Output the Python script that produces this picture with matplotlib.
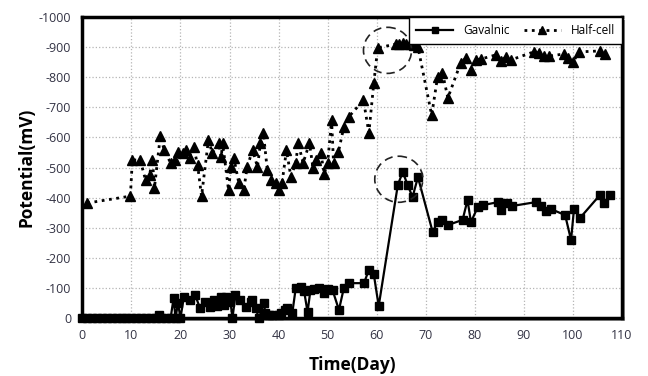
import matplotlib.pyplot as plt
from matplotlib.patches import Ellipse, Rectangle
from matplotlib.ticker import FuncFormatter

plt.rcParams['font.family'] = ['Open Sans', 'DejaVu Sans']

# Gavalnic (galvanic) potential, mV (negative)
gav_day = [0, 1, 2, 3, 4, 5, 6, 7, 8, 9, 10, 11, 12, 13, 14, 15, 15.6, 16, 17, 18,
           18.6, 19, 19.5, 20, 20.7, 22.0, 23.0, 24.0, 25.0, 26.0, 26.8, 27.5, 28.2,
           28.8, 29.2, 30.2, 30.6, 31.2, 32.2, 33.3, 34.3, 34.6, 35.3, 36.0, 37.0,
           37.3, 38.0, 38.7, 40.0, 40.4, 41.4, 41.8, 42.8, 43.5, 44.5, 45.2, 45.9,
           46.5, 47.3, 48.2, 49.2, 50.0, 51.0, 52.3, 53.3, 54.3, 57.4, 58.4, 59.4,
           60.4, 64.3, 65.3, 66.3, 67.3, 68.4, 71.4, 72.4, 73.4, 74.5, 77.5, 78.5,
           79.2, 80.6, 81.6, 84.7, 85.3, 86.5, 87.5, 92.4, 93.5, 94.5, 95.5, 98.4,
           99.6, 100.2, 101.4, 105.5, 106.3, 107.6]
gav_mv = [0, 0, 0, 0, 0, 0, 0, 0, 0, 0, 0, 0, 0, 0, 0, 0, -10, 0, 0, 0,
          -66, 0, -50, 0, -70, -60, -76, -33, -53, -37, -60, -40, -70,
          -43, -70, -53, 0, -76, -60, -37, -53, -60, -33, 0, -50,
          -17, -10, -10, -10, -17, -27, -33, -17, -100, -103, -90, -20,
          -93, -95, -100, -83, -95, -93, -27, -100, -116, -116, -160, -146,
          -40, -442, -485, -442, -402, -468, -286, -319, -326, -309, -326, -392,
          -319, -369, -375, -385, -359, -382, -372, -385, -372, -355, -362, -342,
          -259, -362, -332, -409, -382, -409]

# Half-cell potential, mV (negative)
hc_day = [1, 9.8, 10.2, 11.8, 12.9, 13.7, 14.3, 14.7, 15.9, 16.7, 18.0, 18.8, 19.6,
          20.6, 21.2, 22.0, 22.7, 23.5, 24.3, 25.7, 26.5, 27.8, 28.3, 28.6, 29.8,
          30.3, 30.9, 31.9, 32.9, 33.6, 34.7, 35.7, 36.3, 36.9, 37.7, 38.4, 39.4,
          40.0, 40.7, 41.6, 42.5, 43.5, 44.0, 45.0, 46.3, 47.0, 47.6, 48.6, 49.3,
          50.0, 50.8, 51.2, 52.2, 53.3, 54.3, 57.3, 58.4, 59.4, 60.2, 63.9, 64.6,
          65.3, 66.0, 66.7, 67.5, 68.4, 71.2, 72.4, 73.4, 74.5, 77.1, 78.2, 79.3,
          80.2, 81.2, 84.3, 85.3, 86.3, 87.3, 92.0, 93.1, 94.1, 95.1, 98.2, 98.9,
          100.0, 101.3, 105.5, 106.5]
hc_mv = [-382, -405, -525, -525, -458, -475, -525, -432, -605, -558, -515, -525, -552,
         -548, -558, -530, -568, -508, -405, -591, -548, -581, -535, -581, -425,
         -502, -531, -448, -425, -502, -558, -502, -581, -615, -492, -458, -448,
         -425, -448, -558, -470, -515, -581, -515, -581, -500, -525, -548, -480,
         -515, -658, -515, -552, -635, -668, -724, -615, -780, -897, -910, -910,
         -912, -910, -910, -908, -900, -674, -801, -814, -731, -847, -864, -824,
         -857, -860, -874, -854, -867, -857, -884, -880, -870, -870, -877, -862,
         -851, -884, -887, -877]

# dashed circles marking the jump
circ_day = [62.2, 64.5]
circ_mv = [-889, -461]

fig = plt.figure(figsize=(6.48, 3.76), dpi=100)
ax = fig.add_axes([0.127, 0.154, 0.833, 0.801])
ax.set_zorder(2)

# simple drop shadow behind the plot frame
shadow = Rectangle((0.127 + 0.004, 0.154 - 0.007), 0.833, 0.801, transform=fig.transFigure,
                   facecolor='#9a9a9a', edgecolor='none', zorder=0)
fig.patches.append(shadow)

ax.plot(gav_day, gav_mv, '-s', color='black', lw=1.6, ms=6.2, label='Gavalnic', zorder=4,
        clip_on=False)
ax.plot(hc_day, hc_mv, ':^', color='black', lw=2.0, ms=6.8, label='Half-cell', zorder=3)

for d, v in zip(circ_day, circ_mv):
    ax.add_patch(Ellipse((d, v), 9.8, 153, fill=False, ls=(0, (5, 3)), lw=1.2,
                         edgecolor='#222222', zorder=5))

ax.set_xlim(0, 110)
ax.set_ylim(0, -1000)
ax.set_xticks(range(0, 111, 10))
ax.set_yticks(range(0, -1001, -100))
ax.yaxis.set_major_formatter(FuncFormatter(lambda v, p: '%d' % v))
ax.tick_params(length=0, labelsize=9, labelcolor='#333344', pad=8)
ax.grid(True, color='#b5b5b5', ls=':', lw=0.9)
ax.set_axisbelow(True)
for s in ax.spines.values():
    s.set_linewidth(2.5)
    s.set_color('black')

ax.set_xlabel('Time(Day)', fontsize=12.5, fontweight='bold', labelpad=10)
ax.set_ylabel('Potential(mV)', fontsize=12.5, fontweight='bold', labelpad=2)

leg = ax.legend(loc='upper right', ncol=2, fontsize=8.5, frameon=True, fancybox=False,
                borderaxespad=0, handlelength=3.2, columnspacing=1.2, borderpad=0.6,
                framealpha=1, markerscale=0.8)
leg.get_frame().set_edgecolor('black')
leg.get_frame().set_linewidth(1.0)

fig.savefig('out.png', dpi=100)
